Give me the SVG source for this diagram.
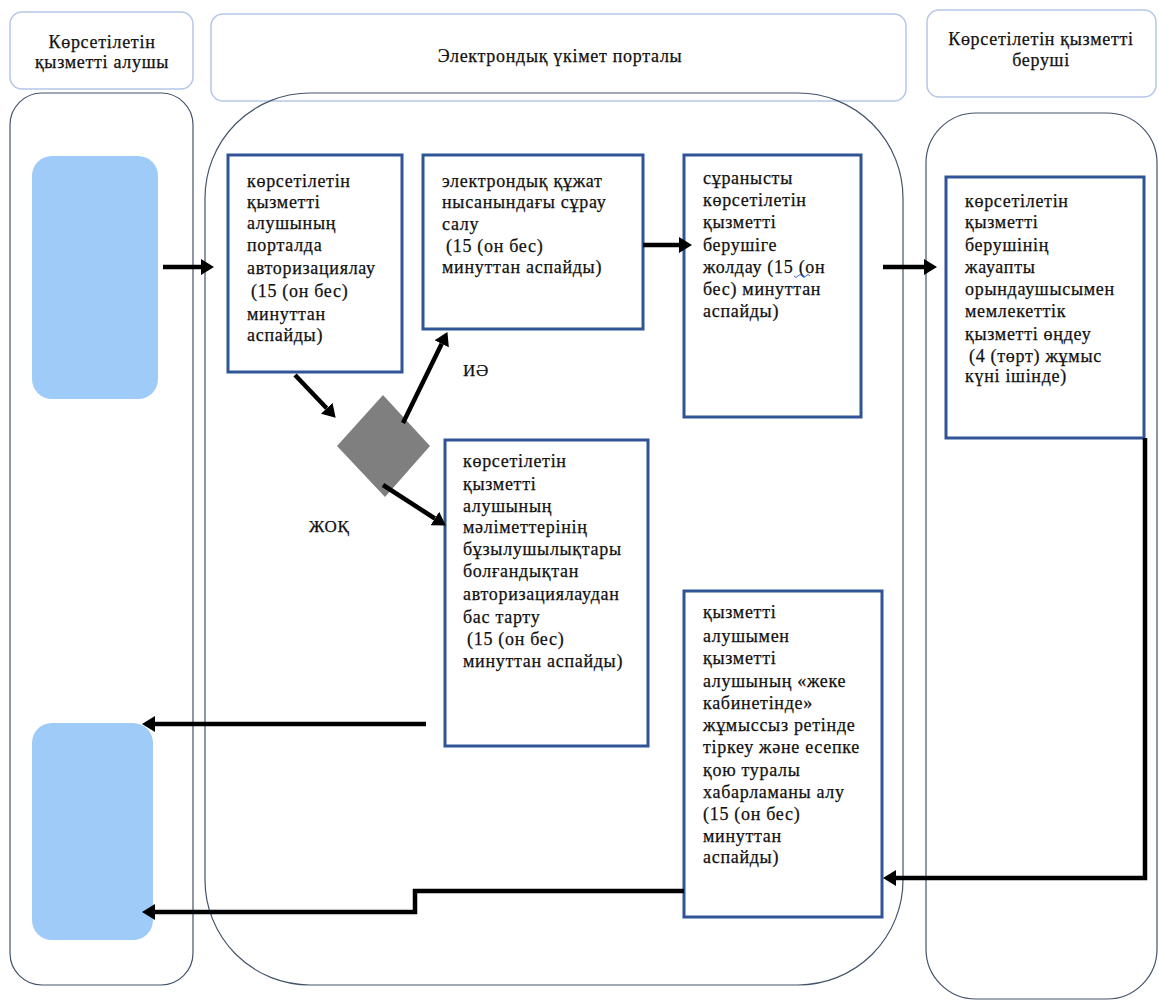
<svg xmlns="http://www.w3.org/2000/svg" width="1159" height="1007" viewBox="0 0 1159 1007">
<style>
.hdr{fill:#fff;stroke:#b4c7e7;stroke-width:1.5}
.lane{fill:none;stroke:#44546a;stroke-width:1.2}
.blue{fill:#9ecbf8}
.box{fill:#fff;stroke:#2f5597;stroke-width:3}
.t{font-family:'Liberation Serif','Times New Roman',serif;font-size:18px;letter-spacing:0.7px;fill:#111;stroke:#111;stroke-width:0.25}
.c{text-anchor:middle}
.conn{stroke:#000;stroke-width:4.5;fill:none}
</style>
<defs>
<marker id="ah" markerUnits="userSpaceOnUse" markerWidth="14" markerHeight="16" refX="0" refY="8" orient="auto">
<path d="M0,0 L13,8 L0,16 z" fill="#000"/>
</marker>
</defs>
<rect width="1159" height="1007" fill="#fff"/>
<g id="lanes">
<rect class="hdr" x="10" y="12" width="183" height="77" rx="12"/>
<rect class="hdr" x="211" y="14" width="695" height="87" rx="12"/>
<rect class="hdr" x="927" y="10" width="229" height="87" rx="12"/>
<text class="t c" x="102" y="48">Көрсетілетін</text>
<text class="t c" x="102" y="68">қызметті алушы</text>
<text class="t c" x="560" y="62">Электрондық үкімет порталы</text>
<text class="t c" x="1041" y="45">Көрсетілетін қызметті</text>
<text class="t c" x="1041" y="66">беруші</text>
<rect class="lane" x="10" y="93" width="183" height="892" rx="32"/>
<rect class="lane" x="205" y="93" width="698" height="892" rx="105"/>
<rect class="lane" x="926" y="113" width="231" height="886" rx="50"/>
</g>
<g id="start">
<rect class="blue" x="32" y="156" width="126" height="243" rx="20"/>
</g>
<g id="end">
<rect class="blue" x="32" y="723" width="121" height="217" rx="20"/>
</g>
<g id="auth">
<rect class="box" x="228" y="155" width="174" height="217"/>
<text class="t"><tspan x="247" y="187">көрсетілетін</tspan><tspan x="247" y="208">қызметті</tspan><tspan x="247" y="229">алушының</tspan><tspan x="247" y="251">порталда</tspan><tspan x="247" y="274">авторизациялау</tspan><tspan x="251" y="297">(15 (он бес)</tspan><tspan x="247" y="320">минуттан</tspan><tspan x="247" y="341">аспайды)</tspan></text>
</g>
<g id="request">
<rect class="box" x="423" y="155" width="220" height="174"/>
<text class="t"><tspan x="442" y="187">электрондық құжат</tspan><tspan x="442" y="208">нысанындағы сұрау</tspan><tspan x="442" y="230">салу</tspan><tspan x="446" y="252">(15 (он бес)</tspan><tspan x="442" y="273">минуттан аспайды)</tspan></text>
</g>
<g id="send">
<rect class="box" x="684" y="155" width="177" height="262"/>
<text class="t"><tspan x="703" y="184">сұранысты</tspan><tspan x="703" y="206">көрсетілетін</tspan><tspan x="703" y="228">қызметті</tspan><tspan x="703" y="251">берушіге</tspan><tspan x="703" y="273">жолдау (15  (он</tspan><tspan x="703" y="295">бес) минуттан</tspan><tspan x="703" y="317">аспайды)</tspan></text>
<path d="M794,276 q2,3 4,0 q2,-3 4,0 q2,3 4,0 q2,-3 4,0" fill="none" stroke="#4060d0" stroke-width="1"/>
</g>
<g id="process">
<rect class="box" x="946" y="177" width="198" height="261"/>
<text class="t"><tspan x="965" y="207">көрсетілетін</tspan><tspan x="965" y="228">қызметті</tspan><tspan x="965" y="251">берушінің</tspan><tspan x="965" y="273">жауапты</tspan><tspan x="965" y="295">орындаушысымен</tspan><tspan x="965" y="317">мемлекеттік</tspan><tspan x="965" y="340">қызметті өңдеу</tspan><tspan x="969" y="362">(4 (төрт) жұмыс</tspan><tspan x="965" y="382">күні ішінде)</tspan></text>
</g>
<g id="decision">
<polygon points="383,395 430,446 385,497 337,446" fill="#7f7f7f"/>
</g>
<g id="reject">
<rect class="box" x="445" y="440" width="203" height="306"/>
<text class="t"><tspan x="463" y="467">көрсетілетін</tspan><tspan x="463" y="490">қызметті</tspan><tspan x="463" y="512">алушының</tspan><tspan x="463" y="533">мәліметтерінің</tspan><tspan x="463" y="555">бұзылушылықтары</tspan><tspan x="463" y="577">болғандықтан</tspan><tspan x="463" y="600">авторизациялаудан</tspan><tspan x="463" y="623">бас тарту</tspan><tspan x="467" y="645">(15 (он бес)</tspan><tspan x="463" y="667">минуттан аспайды)</tspan></text>
</g>
<g id="notify">
<rect class="box" x="684" y="591" width="198" height="326"/>
<text class="t"><tspan x="703" y="618">қызметті</tspan><tspan x="703" y="642">алушымен</tspan><tspan x="703" y="664">қызметті</tspan><tspan x="703" y="687">алушының «жеке</tspan><tspan x="703" y="709">кабинетінде»</tspan><tspan x="703" y="731">жұмыссыз ретінде</tspan><tspan x="703" y="753">тіркеу және есепке</tspan><tspan x="703" y="776">қою туралы</tspan><tspan x="703" y="798">хабарламаны алу</tspan><tspan x="703" y="820">(15 (он бес)</tspan><tspan x="703" y="842">минуттан</tspan><tspan x="703" y="863">аспайды)</tspan></text>
</g>
<g id="labels">
<text class="t" x="463" y="376" style="font-size:17px">ИӘ</text>
<text class="t" x="309" y="532" style="font-size:17px">ЖОҚ</text>
</g>
<g id="connectors">
<line class="conn" x1="163" y1="267" x2="201" y2="267" marker-end="url(#ah)"/>
<line class="conn" x1="295" y1="375" x2="326.7" y2="408.3" marker-end="url(#ah)"/>
<line class="conn" x1="403" y1="423" x2="441.7" y2="343.8" marker-end="url(#ah)"/>
<line class="conn" x1="383" y1="485" x2="434.9" y2="518.5" marker-end="url(#ah)"/>
<line class="conn" x1="643" y1="245" x2="679" y2="245" marker-end="url(#ah)"/>
<line class="conn" x1="883" y1="267" x2="924" y2="267" marker-end="url(#ah)"/>
<polyline class="conn" points="1145,438 1145,878 896,878" marker-end="url(#ah)"/>
<line class="conn" x1="426" y1="724" x2="155" y2="724" marker-end="url(#ah)"/>
<polyline class="conn" points="684,891 415,891 415,912 155,912" marker-end="url(#ah)"/>
</g>
</svg>
